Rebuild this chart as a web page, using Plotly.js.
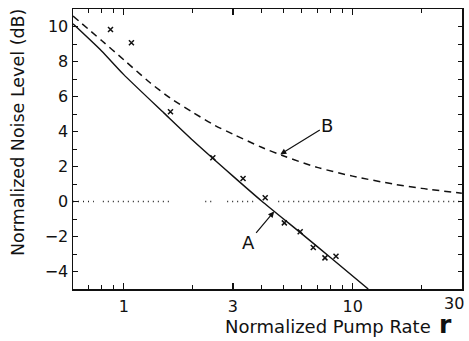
<!DOCTYPE html>
<html><head><meta charset="utf-8">
<script src="https://cdn.plot.ly/plotly-3.0.1.min.js"></script>
<style>html,body{margin:0;padding:0;background:#fff;}</style>
</head><body>
<div id="chart" style="width:469px;height:341px;"></div>
<script>
// Curve A (solid) : normalized pump rate r vs noise level (dB)
const curveA_r  = [0.6, 0.8, 1.0, 1.5, 2.0, 3.0, 4.0, 6.0, 8.0, 11.7];
const curveA_dB = [10.15, 8.6, 7.25, 5.05, 3.5, 1.45, 0.03, -1.85, -3.2, -5.0];
// Curve B (dashed)
const curveB_r  = [0.6, 0.8, 1.0, 1.3, 1.6, 2.0, 2.5, 3.0, 4.0, 5.0, 7.0, 10, 15, 20, 30];
const curveB_dB = [10.6, 9.2, 8.1, 6.8, 5.9, 5.1, 4.35, 3.85, 3.1, 2.6, 1.95, 1.45, 1.0, 0.75, 0.47];
// Measured points (crosses)
const meas_r  = [0.875, 1.08, 1.60, 2.45, 3.32, 4.15, 5.03, 5.90, 6.73, 7.57, 8.46];
const meas_dB = [9.83, 9.07, 5.13, 2.50, 1.31, 0.21, -1.22, -1.73, -2.63, -3.22, -3.13];
// Dotted 0 dB reference (with the gaps seen in the print)
const zero_r  = [0.6, 0.74, null, 0.81, 1.6, null, 2.27, 2.46, null, 2.83, 3.75, null, 4.73, 30];
const zero_dB = [0, 0, null, 0, 0, null, 0, 0, null, 0, 0, null, 0, 0];
// Ticks
const xTickVals = [1, 3, 10, 30];
const xTickText = ['1', '3', '10', '30'];
const xMinorVals = [0.7, 0.8, 0.9, 2, 4, 5, 6, 7, 8, 9, 20];
const yTickVals = [-4, -2, 0, 2, 4, 6, 8, 10];
const yMinorVals = [-3, -1, 1, 3, 5, 7, 9];

const ink = '#111';
const xRange = [Math.log10(0.6), Math.log10(30) + 0.0008];
const yRange = [-5, 11];

// the last x label sits flush with the right edge in the print, so it is placed as a right-anchored annotation
const lastIdx = xTickText.length - 1;
const shownXTickText = xTickText.map((t, i) => i === lastIdx ? '' : t);

const traces = [
  {x: zero_r, y: zero_dB, mode: 'lines', line: {color: '#222', width: 1.5, dash: '1px,4px'}, connectgaps: false, hoverinfo: 'skip'},
  {x: curveB_r, y: curveB_dB, mode: 'lines', line: {color: ink, width: 1.5, dash: '7px,5px', shape: 'spline', smoothing: 0.8}},
  {x: curveA_r, y: curveA_dB, mode: 'lines', line: {color: ink, width: 1.4, shape: 'spline', smoothing: 0.6}},
  {x: meas_r, y: meas_dB, mode: 'markers', marker: {symbol: 'x-thin', size: 5, line: {color: ink, width: 1.5}, color: ink}},
  {x: [], y: [], xaxis: 'x2', yaxis: 'y2', mode: 'markers', hoverinfo: 'skip'}
];

const tickFont = {family: 'DejaVu Sans', size: 16, color: ink};
const axCommon = {
  ticks: 'inside', tickcolor: ink, tickwidth: 1.2,
  showline: true, linecolor: ink, linewidth: 1.5, mirror: true,
  showgrid: false, zeroline: false, tickfont: tickFont
};
const xMinor = {tickmode: 'array', tickvals: xMinorVals, ticks: 'inside', ticklen: 4, tickwidth: 1, tickcolor: ink, showgrid: false};
const yMinor = {tickmode: 'array', tickvals: yMinorVals, ticks: 'inside', ticklen: 4, tickwidth: 1, tickcolor: ink, showgrid: false};

const layout = {
  width: 469, height: 341,
  margin: {l: 73, r: 7, t: 9, b: 52},
  paper_bgcolor: '#fff', plot_bgcolor: '#fff',
  showlegend: false,
  font: {family: 'DejaVu Sans', size: 16, color: ink},
  xaxis: Object.assign({}, axCommon, {
    type: 'log', range: xRange, ticklabelstandoff: 2,
    tickmode: 'array', tickvals: xTickVals, ticktext: shownXTickText, ticklen: 6, minor: xMinor
  }),
  yaxis: Object.assign({}, axCommon, {
    range: yRange, tickmode: 'array', tickvals: yTickVals, ticklen: 5, minor: yMinor
  }),
  xaxis2: {
    overlaying: 'x', anchor: 'y2', side: 'top', type: 'log', range: xRange,
    tickmode: 'array', tickvals: xTickVals, ticks: 'inside', ticklen: 6, tickwidth: 1.2, tickcolor: ink,
    showticklabels: false, showline: false, showgrid: false, zeroline: false, minor: xMinor
  },
  yaxis2: {
    overlaying: 'y', anchor: 'x2', side: 'right', range: yRange,
    tickmode: 'array', tickvals: yTickVals, ticks: 'inside', ticklen: 4, tickwidth: 1.2, tickcolor: ink,
    showticklabels: false, showline: false, showgrid: false, zeroline: false, minor: yMinor
  },
  annotations: [
    {x: Math.log10(4.54), y: -0.57, xref: 'x', yref: 'y', text: 'A', showarrow: true,
     ax: -26, ay: 31, arrowhead: 2, arrowsize: 1, arrowwidth: 1.2, arrowcolor: ink,
     font: {family: 'DejaVu Sans', size: 18, color: ink}},
    {x: Math.log10(4.83), y: 2.69, xref: 'x', yref: 'y', text: 'B', showarrow: true,
     ax: 47, ay: -29, arrowhead: 2, arrowsize: 1, arrowwidth: 1.2, arrowcolor: ink,
     font: {family: 'DejaVu Sans', size: 18, color: ink}},
    {x: (466 - 73) / 389, y: -(303 - 289) / 280, xref: 'paper', yref: 'paper', xanchor: 'right', yanchor: 'middle',
     text: xTickText[lastIdx], showarrow: false, font: tickFont},
    {x: (223 - 73) / 389, y: -(326 - 289) / 280, xref: 'paper', yref: 'paper', xanchor: 'left', yanchor: 'middle',
     text: 'Normalized Pump Rate', showarrow: false, font: {family: 'DejaVu Sans', size: 18, color: ink}},
    {x: (445 - 73) / 389, y: -(324 - 289) / 280, xref: 'paper', yref: 'paper', xanchor: 'center', yanchor: 'middle',
     text: '<b>r</b>', showarrow: false, font: {family: 'DejaVu Sans', size: 25, color: ink}},
    {x: (18 - 73) / 389, y: (289 - 133) / 280, xref: 'paper', yref: 'paper', xanchor: 'center', yanchor: 'middle',
     textangle: -90, text: 'Normalized Noise Level (dB)', showarrow: false,
     font: {family: 'DejaVu Sans', size: 17.5, color: ink}}
  ]
};

Plotly.newPlot('chart', traces, layout, {staticPlot: true, displayModeBar: false});
</script>
</body></html>
